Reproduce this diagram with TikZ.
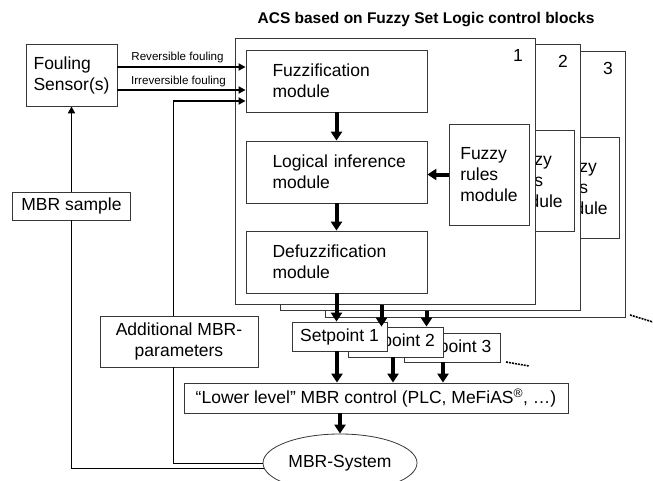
\documentclass[tikz,border=0pt]{standalone}
\usepackage{fontspec}
\setmainfont{Liberation Sans}
\usepackage{tikz}
\usetikzlibrary{arrows.meta,calc,shapes.geometric}
\definecolor{boxline}{RGB}{55,55,55}
\tikzset{every node/.style={font=\fontsize{17.5pt}{21pt}\selectfont},
 box/.style={draw=boxline,line width=.8pt,fill=white,inner sep=0pt},
 panel/.style={box,minimum width=300pt,minimum height=266pt},
 module/.style={box,minimum width=181pt,minimum height=62pt,text width=128pt,align=left},
 rulesbox/.style={box,minimum width=80pt,minimum height=101pt,align=left},
 setbox/.style={box,minimum width=95pt,minimum height=29pt},
 bigarrow/.style={-{Triangle[width=11pt,length=9pt]},line width=4pt},
 medarrow/.style={-{Triangle[width=7pt,length=7pt]},line width=1.8pt},
 small/.style={font=\fontsize{11.6pt}{14pt}\selectfont},
 more/.style={line width=1.6pt,dash pattern=on 2pt off 1pt}}
\newcommand{\frontonly}[2]{\ifnum#1=1 #2\fi}

\begin{document}
\begin{tikzpicture}[x=1pt,y=-1pt]
\useasboundingbox (0,0) rectangle (653,480);
\clip (0,0) rectangle (653,480);
\node[font=\fontsize{15.5pt}{18pt}\selectfont\bfseries] (title) at (426,20) {ACS based on Fuzzy Set Logic control blocks};
\node[box,minimum width=91pt,minimum height=62pt,align=left] (sensor) at (71.5,75) {Fouling\\Sensor(s)};
\node[box,minimum width=118pt,minimum height=28pt] (sample) at (71.5,206) {MBR sample};
\node[box,minimum width=158pt,minimum height=51pt,align=center] (addp) at (179,341.5) {Additional MBR-\\parameters};
\node[setbox,minimum width=96pt] (sp-3) at (452,347.5) {Setpoint 3};
\node[setbox,minimum height=30pt] (sp-2) at (395.5,342) {Setpoint 2};
\node[setbox] (sp-1) at (339.5,336.5) {Setpoint 1};
\node[box,minimum width=384pt,minimum height=30pt] (lower) at (376,398) {``Lower level'' MBR control (PLC, MeFiAS\textsuperscript{\textregistered}, \dots)};
\node[box,ellipse,minimum width=154pt,minimum height=58pt] (mbr) at (340,463) {MBR-System};
% stacked control blocks, the last one in front
\foreach \k/\t in {3/2,2/2,1/1}{
\begin{scope}[shift={({45*(\k-1)},{6.5*(\k-1)})}]
\node[panel] (pan-\k) at (385,171) {};
\node (num-\k) at (518,55) {\k};
\node[module] (fuz-\k) at (336.5,81) {\frontonly{\k}{Fuzzification\\module}};
\node[module] (log-\k) at (336.5,172) {\frontonly{\k}{\mbox{Logical inference}\\module}};
\node[module] (dfz-\k) at (336.5,262) {\frontonly{\k}{Defuzzification\\module}};
\node[rulesbox] (rul-\k) at (489,174.5) {Fuzzy\\rules\\module};
\draw[bigarrow] (fuz-\k) -- (log-\k);
\draw[bigarrow] (log-\k) -- (dfz-\k);
\draw[bigarrow] (rul-\k.west) -- (rul-\k.west -| log-\k.east);
\draw[bigarrow] (dfz-\k.south) -- (dfz-\k.south |- sp-\t.north);
\end{scope}}
\draw[bigarrow] ([xshift=-2.5pt]sp-1.south) -- ([xshift=-2.5pt]sp-1.south |- lower.north);
\draw[bigarrow] ([xshift=-2.5pt]sp-2.south) -- ([xshift=-2.5pt]sp-2.south |- lower.north);
\draw[bigarrow] ([xshift=-9pt]sp-3.south) -- ([xshift=-9pt]sp-3.south |- lower.north);
\draw[bigarrow] (mbr.north |- lower.south) -- (mbr.north);
% fouling signals and measured parameters
\draw[medarrow] ([yshift=8pt]sensor.east) -- ([yshift=8pt]sensor.east -| fuz-1.west)
 node[midway,above,small,xshift=-4pt] {Reversible fouling};
\draw[medarrow] ([yshift=-15pt]sensor.east) -- ([yshift=-15pt]sensor.east -| fuz-1.west)
 node[midway,above,small,xshift=-3pt,yshift=-1pt] {Irreversible fouling};
\coordinate (feed) at (173,101);
\draw[line width=.8pt] (feed |- addp.north) -- (feed);
\draw[medarrow] (feed) -- (feed -| fuz-1.west);
\draw[line width=.8pt] (mbr.west) -| (feed |- addp.south);
\draw[line width=.8pt] (mbr.184) -| (sample.south);
\draw[medarrow] (sample.north) -- (sensor.south);
\draw[more] (630,315) -- (653,322);
\draw[more] (506,362) -- (529,366);
\end{tikzpicture}
\end{document}
